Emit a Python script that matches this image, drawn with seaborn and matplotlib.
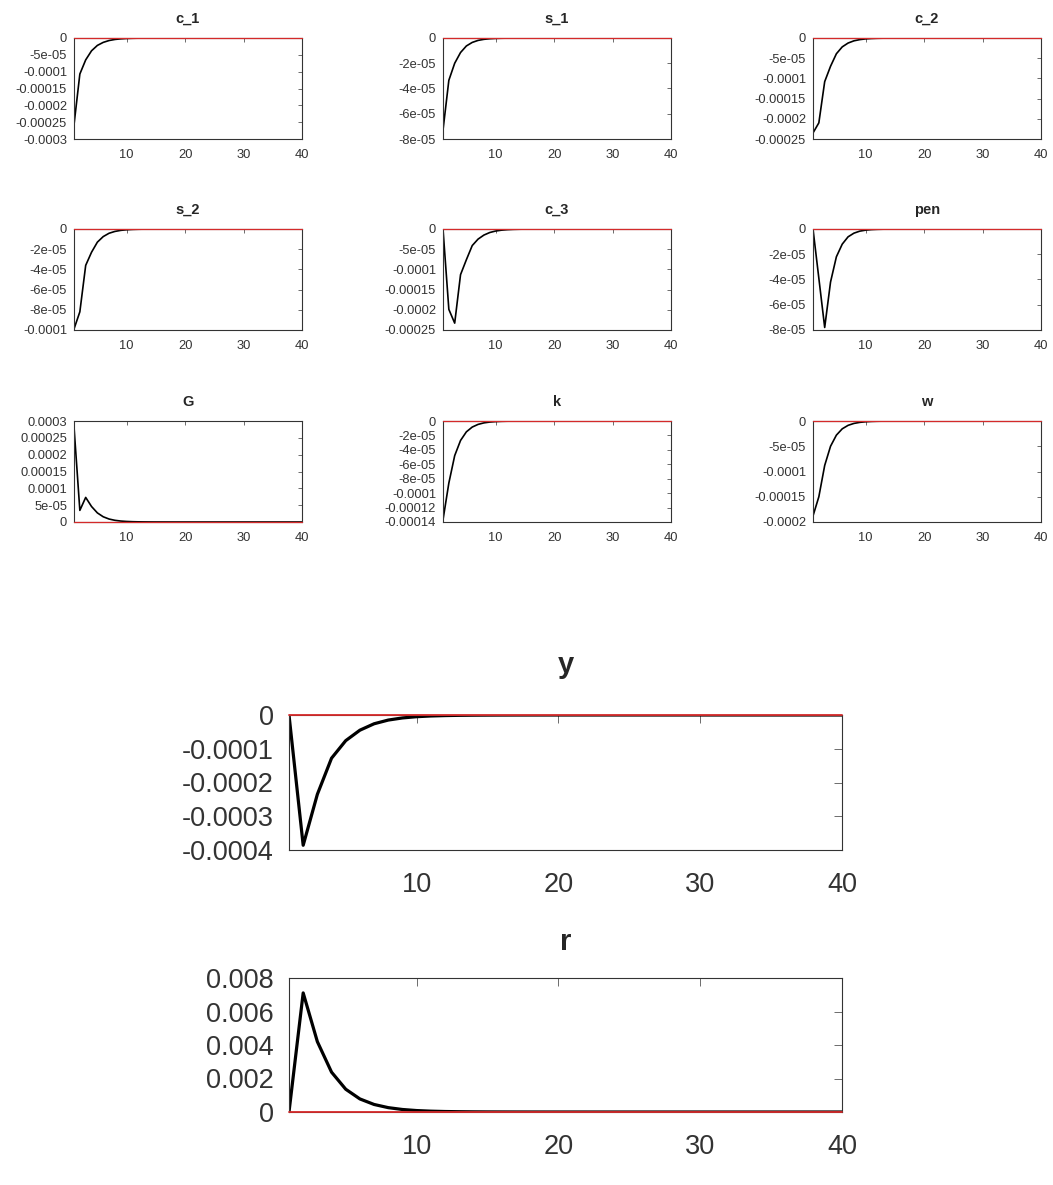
import matplotlib
matplotlib.use("Agg")
import matplotlib.pyplot as plt
import seaborn as sns
from matplotlib.ticker import FuncFormatter, MultipleLocator

# Impulse responses, periods 1..40
periods = list(range(1, 41))

c_1 = [-2.58e-4, -1.07e-4, -6.5e-5, -3.8e-5, -2.2e-5, -1.3e-5, -7.5e-6, -4.3e-6, -2.5e-6, -1.4e-6,
       -8e-7, -4.6e-7, -2.6e-7, -1.5e-7, -8.6e-8, -5e-8, -2.8e-8, -1.6e-8, -9e-9, -5e-9,
       0, 0, 0, 0, 0, 0, 0, 0, 0, 0, 0, 0, 0, 0, 0, 0, 0, 0, 0, 0]
s_1 = [-7.3e-5, -3.35e-5, -2.0e-5, -1.15e-5, -6.3e-6, -3.5e-6, -1.9e-6, -1.05e-6, -5.8e-7, -3.2e-7,
       -1.8e-7, -1e-7, -5.5e-8, -3e-8, -1.7e-8, -9e-9, -5e-9, 0, 0, 0,
       0, 0, 0, 0, 0, 0, 0, 0, 0, 0, 0, 0, 0, 0, 0, 0, 0, 0, 0, 0]
c_2 = [-2.35e-4, -2.1e-4, -1.08e-4, -7.0e-5, -3.9e-5, -2.2e-5, -1.25e-5, -7e-6, -4e-6, -2.2e-6,
       -1.25e-6, -7e-7, -4e-7, -2.2e-7, -1.25e-7, -7e-8, -4e-8, -2.2e-8, -1.2e-8, -7e-9,
       0, 0, 0, 0, 0, 0, 0, 0, 0, 0, 0, 0, 0, 0, 0, 0, 0, 0, 0, 0]
s_2 = [-9.9e-5, -8.2e-5, -3.6e-5, -2.3e-5, -1.3e-5, -7.5e-6, -4.2e-6, -2.4e-6, -1.35e-6, -7.6e-7,
       -4.3e-7, -2.4e-7, -1.35e-7, -7.6e-8, -4.3e-8, -2.4e-8, -1.3e-8, -7e-9, 0, 0,
       0, 0, 0, 0, 0, 0, 0, 0, 0, 0, 0, 0, 0, 0, 0, 0, 0, 0, 0, 0]
c_3 = [0, -1.99e-4, -2.33e-4, -1.13e-4, -7.6e-5, -4.1e-5, -2.5e-5, -1.5e-5, -8.7e-6, -5e-6,
       -2.9e-6, -1.65e-6, -9.5e-7, -5.4e-7, -3.1e-7, -1.8e-7, -1e-7, -5.8e-8, -3.3e-8, -1.9e-8,
       -1.1e-8, -6e-9, 0, 0, 0, 0, 0, 0, 0, 0, 0, 0, 0, 0, 0, 0, 0, 0, 0, 0]
pen = [0, -3.9e-5, -7.8e-5, -4.2e-5, -2.2e-5, -1.2e-5, -6.2e-6, -3.3e-6, -1.7e-6, -9e-7,
       -4.8e-7, -2.6e-7, -1.4e-7, -7.4e-8, -4e-8, -2.1e-8, -1.1e-8, -6e-9, 0, 0,
       0, 0, 0, 0, 0, 0, 0, 0, 0, 0, 0, 0, 0, 0, 0, 0, 0, 0, 0, 0]
G = [2.83e-4, 3.45e-5, 7.3e-5, 4.6e-5, 2.7e-5, 1.55e-5, 8.8e-6, 5e-6, 2.8e-6, 1.6e-6,
     9e-7, 5e-7, 2.8e-7, 1.6e-7, 9e-8, 5e-8, 2.8e-8, 1.6e-8, 9e-9, 5e-9,
     0, 0, 0, 0, 0, 0, 0, 0, 0, 0, 0, 0, 0, 0, 0, 0, 0, 0, 0, 0]
k = [-1.37e-4, -8.6e-5, -4.8e-5, -2.7e-5, -1.5e-5, -8.4e-6, -4.7e-6, -2.6e-6, -1.45e-6, -8.1e-7,
     -4.5e-7, -2.5e-7, -1.4e-7, -7.8e-8, -4.4e-8, -2.5e-8, -1.4e-8, -8e-9, 0, 0,
     0, 0, 0, 0, 0, 0, 0, 0, 0, 0, 0, 0, 0, 0, 0, 0, 0, 0, 0, 0]
w = [-1.88e-4, -1.5e-4, -8.8e-5, -5.0e-5, -2.8e-5, -1.55e-5, -8.6e-6, -4.8e-6, -2.7e-6, -1.5e-6,
     -8.3e-7, -4.6e-7, -2.6e-7, -1.45e-7, -8e-8, -4.5e-8, -2.5e-8, -1.4e-8, -8e-9, 0,
     0, 0, 0, 0, 0, 0, 0, 0, 0, 0, 0, 0, 0, 0, 0, 0, 0, 0, 0, 0]
y = [0, -3.86e-4, -2.35e-4, -1.28e-4, -7.6e-5, -4.5e-5, -2.6e-5, -1.5e-5, -8.7e-6, -5e-6,
     -2.9e-6, -1.7e-6, -9.7e-7, -5.6e-7, -3.2e-7, -1.9e-7, -1.1e-7, -6e-8, -3.5e-8, -2e-8,
     -1.2e-8, -7e-9, 0, 0, 0, 0, 0, 0, 0, 0, 0, 0, 0, 0, 0, 0, 0, 0, 0, 0]
r = [0, 7.11e-3, 4.2e-3, 2.38e-3, 1.36e-3, 7.8e-4, 4.5e-4, 2.6e-4, 1.5e-4, 8.6e-5,
     5e-5, 2.9e-5, 1.7e-5, 9.6e-6, 5.5e-6, 3.2e-6, 1.8e-6, 1e-6, 6e-7, 3.5e-7,
     2e-7, 1.2e-7, 7e-8, 4e-8, 0, 0, 0, 0, 0, 0, 0, 0, 0, 0, 0, 0, 0, 0, 0, 0]

# name, values, y limits, y tick step
small_panels = [
    ("c_1", c_1, (-0.0003, 0), 5e-5),
    ("s_1", s_1, (-8e-5, 0), 2e-5),
    ("c_2", c_2, (-0.00025, 0), 5e-5),
    ("s_2", s_2, (-0.0001, 0), 2e-5),
    ("c_3", c_3, (-0.00025, 0), 5e-5),
    ("pen", pen, (-8e-5, 0), 2e-5),
    ("G", G, (0, 0.0003), 5e-5),
    ("k", k, (-0.00014, 0), 2e-5),
    ("w", w, (-0.0002, 0), 5e-5),
]
big_panels = [
    ("y", y, (-0.0004, 0), 1e-4),
    ("r", r, (0, 0.008), 0.002),
]

sns.set_style("white")
plt.rcParams["font.family"] = ["Liberation Sans", "DejaVu Sans"]

W, H = 1053, 1185
fig = plt.figure(figsize=(W / 100, H / 100), dpi=100)


def box(left, top, right, bottom):
    return [left / W, 1 - bottom / H, (right - left) / W, (bottom - top) / H]


def fmt(v, pos):
    if abs(v) < 1e-12:
        return "0"
    return "%g" % round(v, 10)


def draw(rect, name, values, ylim, step, big=False, title_pad=11):
    ax = fig.add_axes(rect)
    sns.lineplot(x=periods, y=values, ax=ax, color="black",
                 linewidth=2.3 if big else 1.2, zorder=2)
    # zero reference line, may sit on the frame so don't clip it
    ax.axhline(0, color="#d42a2a", linewidth=1.3 if big else 0.9,
               zorder=3, clip_on=False)
    ax.set_xlim(1, 40)
    ax.set_ylim(*ylim)
    ax.set_xticks([10, 20, 30, 40])
    ax.yaxis.set_major_locator(MultipleLocator(step))
    ax.yaxis.set_major_formatter(FuncFormatter(fmt))
    ax.set_xlabel("")
    ax.set_ylabel("")
    for sp in ax.spines.values():
        sp.set_color("#333333")
        sp.set_linewidth(0.8)
    ax.tick_params(direction="in", top=True, right=True, color="#555555",
                   labelcolor="#333333", length=6 if big else 3, width=0.6,
                   labelsize=19.5 if big else 9.3)
    ax.tick_params(axis="y", pad=11 if big else 5)
    ax.tick_params(axis="x", pad=16 if big else 7)
    ax.set_title(name, fontsize=21 if big else 10.5, fontweight="bold", pad=title_pad)
    return ax


col_left = [74, 443, 813]
row_top = [38, 229, 421]
for i, (name, vals, lim, step) in enumerate(small_panels):
    left = col_left[i % 3]
    top = row_top[i // 3]
    draw(box(left, top, left + 228, top + 101), name, vals, lim, step)

big_rows = [(715, 850, 30), (978, 1112, 20)]
for (name, vals, lim, step), (top, bottom, tpad) in zip(big_panels, big_rows):
    draw(box(289, top, 842, bottom), name, vals, lim, step, big=True, title_pad=tpad)

fig.savefig("out.png", dpi=100)
